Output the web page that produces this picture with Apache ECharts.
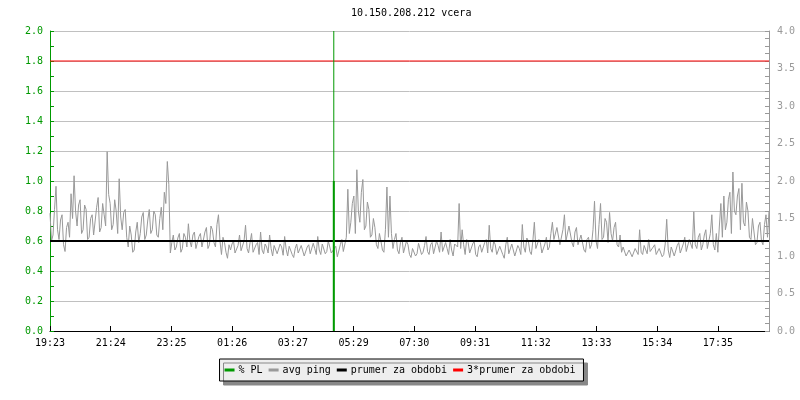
<!DOCTYPE html>
<html>
<head>
<meta charset="utf-8">
<script src="https://cdn.jsdelivr.net/npm/echarts@6/dist/echarts.min.js"></script>
<style>
  html, body { margin: 0; padding: 0; background: #fff; }
  #chart { width: 800px; height: 400px; }
</style>
</head>
<body>
<div id="chart"></div>
<script>
// ---- data ----
const titleText = '10.150.208.212 vcera';
const tickLabels = ['19:23', '21:24', '23:25', '01:26', '03:27', '05:29', '07:30', '09:31', '11:32', '13:33', '15:34', '17:35'];
const xTickStep = 121.1;   // minutes between labelled ticks
const xMax = 1434;         // minutes shown
const pingStepMin = 3;     // sampling step of avg ping (minutes)
const pingValues = [
  1.57,1.20, 1.28,1.62, 1.93,1.35, 1.22,1.48, 1.55,1.15, 1.06,1.38, 1.45,1.25, 1.83,1.50, 2.07,1.60, 1.40,1.68,
  1.75,1.30, 1.35,1.68, 1.62,1.22, 1.25,1.50, 1.55,1.28, 1.30,1.65, 1.78,1.32, 1.38,1.70, 1.55,1.40, 2.39,1.82,
  1.70,1.35, 1.42,1.75, 1.60,1.30, 2.03,1.52, 1.35,1.58, 1.62,1.25, 1.12,1.40, 1.28,1.05, 1.08,1.32, 1.45,1.18,
  1.30,1.52, 1.58,1.22, 1.28,1.48, 1.62,1.30, 1.35,1.60, 1.55,1.28, 1.25,1.50, 1.65,1.35, 1.85,1.70, 2.26,1.95,
  1.04,1.18, 1.28,1.08, 1.12,1.24, 1.30,1.05, 1.10,1.30, 1.25,1.12, 1.43,1.20, 1.12,1.28, 1.32,1.10, 1.08,1.26,
  1.30,1.12, 1.10,1.32, 1.38,1.10, 1.15,1.40, 1.35,1.18, 1.12,1.42, 1.55,1.20, 1.02,1.25, 1.18,1.05, 0.97,1.15,
  1.08,1.16, 1.20,1.04, 1.02,1.14, 1.28,1.07, 1.05,1.20, 1.41,1.10, 1.04,1.18, 1.30,1.05, 1.06,1.15, 1.18,1.02,
  1.32,1.08, 1.03,1.16, 1.12,1.04, 1.28,1.10, 1.00,1.14, 1.15,1.03, 1.02,1.16, 1.12,1.01, 1.26,1.09, 1.00,1.13,
  1.14,1.02, 0.98,1.10, 1.16,1.04, 1.03,1.14, 1.12,1.00, 0.99,1.12, 1.15,1.03, 1.05,1.17, 1.10,1.02, 1.26,1.08,
  1.02,1.16, 1.14,1.03, 1.06,1.20, 1.18,1.04, 1.05,1.10, 1.13,0.99, 1.00,1.15, 1.22,1.06, 1.08,1.25, 1.89,1.30,
  1.45,1.70, 1.80,1.30, 2.15,1.60, 1.45,1.85, 2.02,1.35, 1.40,1.72, 1.62,1.25, 1.28,1.50, 1.38,1.15, 1.10,1.30,
  1.20,1.08, 1.05,1.35, 1.92,1.25, 1.80,1.30, 1.10,1.22, 1.30,1.08, 1.03,1.18, 1.25,1.04, 1.05,1.20, 1.15,1.02,
  0.98,1.10, 1.12,1.00, 1.03,1.17, 1.15,1.02, 1.05,1.14, 1.26,1.06, 1.02,1.15, 1.18,1.03, 1.04,1.20, 1.14,1.05,
  1.32,1.06, 1.05,1.18, 1.10,1.02, 1.22,1.08, 1.00,1.16, 1.15,1.12, 1.70,1.10, 1.35,1.15, 1.02,1.22, 1.18,1.04,
  1.05,1.16, 1.20,1.02, 0.99,1.12, 1.15,1.05, 1.03,1.18, 1.22,1.04, 1.41,1.10, 1.05,1.20, 1.15,1.02, 1.00,1.13,
  1.12,1.02, 0.97,1.15, 1.25,1.03, 1.04,1.16, 1.18,1.00, 0.99,1.14, 1.10,1.02, 1.42,1.12, 1.05,1.24, 1.20,1.06,
  1.02,1.20, 1.45,1.10, 1.08,1.22, 1.18,1.04, 1.03,1.16, 1.25,1.08, 1.12,1.30, 1.45,1.22, 1.20,1.38, 1.40,1.15,
  1.15,1.35, 1.55,1.20, 1.22,1.40, 1.42,1.18, 1.12,1.32, 1.38,1.15, 1.15,1.28, 1.30,1.08, 1.05,1.22, 1.25,1.10,
  1.15,1.35, 1.73,1.20, 1.10,1.42, 1.70,1.22, 1.25,1.50, 1.45,1.18, 1.58,1.30, 1.20,1.38, 1.45,1.15, 1.12,1.28,
  1.05,1.12, 1.10,1.00, 0.98,1.08, 1.08,0.99, 1.00,1.10, 1.12,1.02, 1.35,1.05, 1.02,1.14, 1.15,1.03, 1.22,1.06,
  1.05,1.12, 1.15,1.02, 1.00,1.10, 1.12,0.99, 1.02,1.16, 1.49,1.08, 0.98,1.12, 1.10,1.00, 1.02,1.14, 1.18,1.04,
  1.05,1.16, 1.25,1.06, 1.08,1.22, 1.20,1.10, 1.59,1.15, 1.10,1.25, 1.30,1.08, 1.15,1.28, 1.35,1.10, 1.12,1.30,
  1.55,1.15, 1.08,1.30, 1.05,1.40, 1.70,1.25, 1.80,1.35, 1.45,1.75, 1.85,1.30, 2.12,1.60, 1.55,1.80, 1.90,1.35,
  1.97,1.45, 1.40,1.72, 1.60,1.25, 1.22,1.50, 1.48,1.15, 1.18,1.40, 1.45,1.20, 1.15,1.42, 1.55,1.25, 1.60
];
const meanPing = 1.2;            // prumer za obdobi (ms)
const meanFactor = 3;            // 3*prumer
const plTimes = [566];           // minutes from start
const plValues = [1.0];          // % PL
const plOffscale = [2.0];        // off-scale PL sample (clipped at axis max)

// ---- build ----
const pingData = pingValues.map((v, i) => [i * pingStepMin, v]);
const meanData = [[0, meanPing], [xMax, meanPing]];
const mean3Data = [[0, meanPing * meanFactor], [xMax, meanPing * meanFactor]];
const plData = [];
plTimes.forEach((t, i) => { plData.push([t, 0], [t, plValues[i]]); });
const plHiData = [];
plTimes.forEach((t, i) => { plHiData.push([t, 0], [t, plOffscale[i]]); });

const FONT = 'DejaVu Sans Mono';
const GREEN = '#009900';
const GRAY = '#999999';

const chart = echarts.init(document.getElementById('chart'), null, { renderer: 'canvas' });
chart.setOption({
  animation: false,
  backgroundColor: '#ffffff',
  title: {
    text: titleText,
    left: 346, top: 3,
    textStyle: { fontFamily: FONT, fontSize: 10, fontWeight: 'normal', color: '#000' }
  },
  legend: {
    data: ['% PL', 'avg ping', 'prumer za obdobi', '3*prumer za obdobi'],
    left: 'center', top: 359,
    icon: 'rect', itemWidth: 10, itemHeight: 3, itemGap: 6,
    padding: [6, 8, 6, 5],
    backgroundColor: '#eeeeee', borderColor: '#000', borderWidth: 1,
    shadowColor: '#888888', shadowOffsetX: 4, shadowOffsetY: 4, shadowBlur: 0,
    textStyle: { fontFamily: FONT, fontSize: 10, color: '#000', padding: [0, 0, 0, -1] }
  },
  grid: { left: 50, right: 31, top: 31, bottom: 69, containLabel: false },
  xAxis: {
    type: 'value', min: 0, max: xMax, interval: xTickStep,
    axisLine: { show: true, lineStyle: { color: '#000', width: 1 } },
    axisTick: { show: true, inside: true, length: 5, lineStyle: { color: '#000' } },
    splitLine: { show: false },
    axisLabel: {
      fontFamily: FONT, fontSize: 10, color: '#000', margin: 7,
      showMaxLabel: false,
      formatter: v => {
        const k = Math.round(v / xTickStep);
        return Math.abs(v - k * xTickStep) < 0.5 ? (tickLabels[k] || '') : '';
      }
    }
  },
  yAxis: [
    {
      type: 'value', min: 0, max: 2, interval: 0.2, position: 'left',
      axisLine: { show: true, lineStyle: { color: GREEN, width: 1 } },
      axisTick: { show: true, inside: true, length: 4, lineStyle: { color: GREEN } },
      minorTick: { show: true, splitNumber: 2, length: 4, lineStyle: { color: GREEN } },
      splitLine: { show: true, lineStyle: { color: '#c0c0c0', width: 1 } },
      axisLabel: { fontFamily: FONT, fontSize: 10, color: GREEN, margin: 7, formatter: v => v.toFixed(1) }
    },
    {
      type: 'value', min: 0, max: 4, interval: 0.5, position: 'right',
      axisLine: { show: true, lineStyle: { color: GRAY, width: 1 } },
      axisTick: { show: true, inside: true, length: 4, lineStyle: { color: GRAY } },
      minorTick: { show: true, splitNumber: 5, length: 4, lineStyle: { color: GRAY } },
      splitLine: { show: false },
      axisLabel: { fontFamily: FONT, fontSize: 10, color: GRAY, margin: 8, formatter: v => v.toFixed(1) }
    }
  ],
  series: [
    {
      name: 'avg ping', type: 'line', yAxisIndex: 1, data: pingData,
      showSymbol: false, symbol: 'none',
      lineStyle: { color: GRAY, width: 1 }, itemStyle: { color: GRAY }, z: 2
    },
    {
      name: 'prumer za obdobi', type: 'line', yAxisIndex: 1, data: meanData,
      showSymbol: false, symbol: 'none',
      lineStyle: { color: '#000', width: 2 }, itemStyle: { color: '#000' }, z: 3
    },
    {
      name: '3*prumer za obdobi', type: 'line', yAxisIndex: 1, data: mean3Data,
      showSymbol: false, symbol: 'none',
      lineStyle: { color: '#ff0000', width: 1 }, itemStyle: { color: '#ff0000' }, z: 3
    },
    {
      name: '% PL', type: 'line', yAxisIndex: 0, data: plHiData,
      showSymbol: false, symbol: 'none',
      lineStyle: { color: GREEN, width: 1 }, itemStyle: { color: GREEN }, z: 4
    },
    {
      name: '% PL', type: 'line', yAxisIndex: 0, data: plData,
      showSymbol: false, symbol: 'none',
      lineStyle: { color: GREEN, width: 2 }, itemStyle: { color: GREEN }, z: 4
    }
  ]
});
</script>
</body>
</html>
